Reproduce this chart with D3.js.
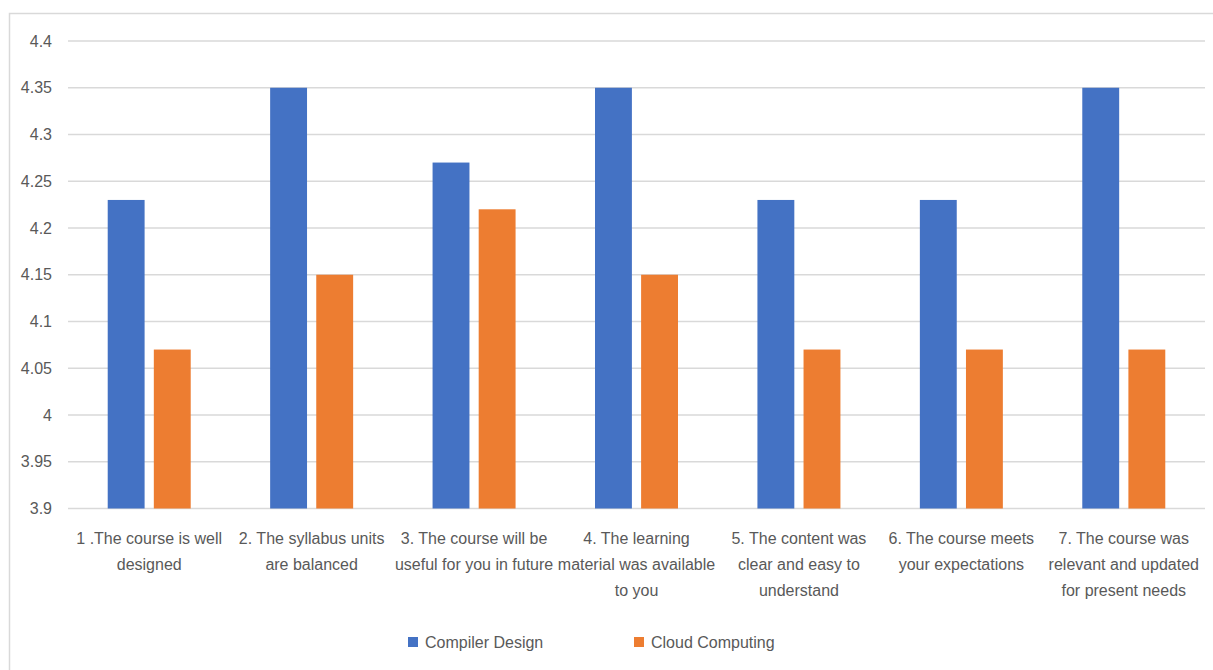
<!DOCTYPE html>
<html><head><meta charset="utf-8">
<script src="https://cdn.jsdelivr.net/npm/d3@7"></script>
<style>
html,body{margin:0;padding:0;background:#fff;}
text{font-family:"Liberation Sans Narrow","Arial Narrow","Liberation Sans",sans-serif;fill:#595959;}
</style></head>
<body><svg id="c" width="1213" height="670"></svg>
<script>
const categories = [
  "1 .The course is well designed",
  "2. The syllabus units are balanced",
  "3. The course will be useful for you in future",
  "4. The learning material was available to you",
  "5. The content was clear and easy to understand",
  "6. The course meets your expectations",
  "7. The course was relevant and updated for present needs"
];
const categoryLines = [
  ["1 .The course is well", "designed"],
  ["2. The syllabus units", "are balanced"],
  ["3. The course will be", "useful for you in future"],
  ["4. The learning", "material was available", "to you"],
  ["5. The content was", "clear and easy to", "understand"],
  ["6. The course meets", "your expectations"],
  ["7. The course was", "relevant and updated", "for present needs"]
];
const seriesNames = ["Compiler Design", "Cloud Computing"];
const compilerDesign = [4.23, 4.35, 4.27, 4.35, 4.23, 4.23, 4.35];
const cloudComputing = [4.07, 4.15, 4.22, 4.15, 4.07, 4.07, 4.07];
const yTicks = [3.9, 3.95, 4.0, 4.05, 4.1, 4.15, 4.2, 4.25, 4.3, 4.35, 4.4];
const yTickLabels = ["3.9","3.95","4","4.05","4.1","4.15","4.2","4.25","4.3","4.35","4.4"];
const colors = ["#4472C4", "#ED7D31"];

(function(){
const svg = d3.select("#c");
svg.append("rect").attr("x",9.5).attr("y",13.5).attr("width",1240).attr("height",700)
  .attr("fill","none").attr("stroke","#d9d9d9").attr("stroke-width",1.5);

const pLeft = 68, pRight = 1205, pTop = 41, pBottom = 508.5;
const y = d3.scaleLinear().domain([3.9, 4.4]).range([pBottom, pTop]);
const x0 = d3.scaleBand().domain(categories).range([pLeft, pRight]).paddingInner(0).paddingOuter(0);
const groupW = 83;
const x1 = d3.scaleBand().domain(seriesNames).range([0, groupW]).paddingInner(0.2).paddingOuter(0);

svg.append("g").selectAll("line").data(yTicks).join("line")
  .attr("x1", pLeft).attr("x2", pRight)
  .attr("y1", d => y(d)).attr("y2", d => y(d))
  .attr("stroke", "#d9d9d9").attr("stroke-width", 1.3);

svg.append("g").selectAll("text").data(yTicks).join("text")
  .attr("x", 52).attr("y", d => y(d)).attr("dy","0.35em")
  .attr("text-anchor","end").attr("font-size", 16)
  .text((d,i) => yTickLabels[i]);

const series = [compilerDesign, cloudComputing];
const g = svg.append("g");
categories.forEach((c, i) => {
  const gx = x0(c) + (x0.bandwidth() - groupW) / 2;
  series.forEach((vals, s) => {
    g.append("rect")
      .attr("x", gx + x1(seriesNames[s]))
      .attr("width", x1.bandwidth())
      .attr("y", y(vals[i]))
      .attr("height", y(3.9) - y(vals[i]))
      .attr("fill", colors[s]);
  });
});

const lab = svg.append("g");
categories.forEach((c, i) => {
  const cx = x0(c) + x0.bandwidth() / 2;
  const t = lab.append("text").attr("text-anchor","middle").attr("font-size", 16);
  categoryLines[i].forEach((ln, k) => {
    t.append("tspan").attr("x", cx).attr("y", 544 + k * 26).text(ln);
  });
});

const legend = svg.append("g");
const legX = [408, 634];
seriesNames.forEach((n, s) => {
  legend.append("rect").attr("x", legX[s]).attr("y", 637).attr("width", 10).attr("height", 10).attr("fill", colors[s]);
  legend.append("text").attr("x", legX[s] + 17).attr("y", 642).attr("dy","0.35em")
    .attr("font-size", 16).text(n);
});
})();
</script></body></html>
